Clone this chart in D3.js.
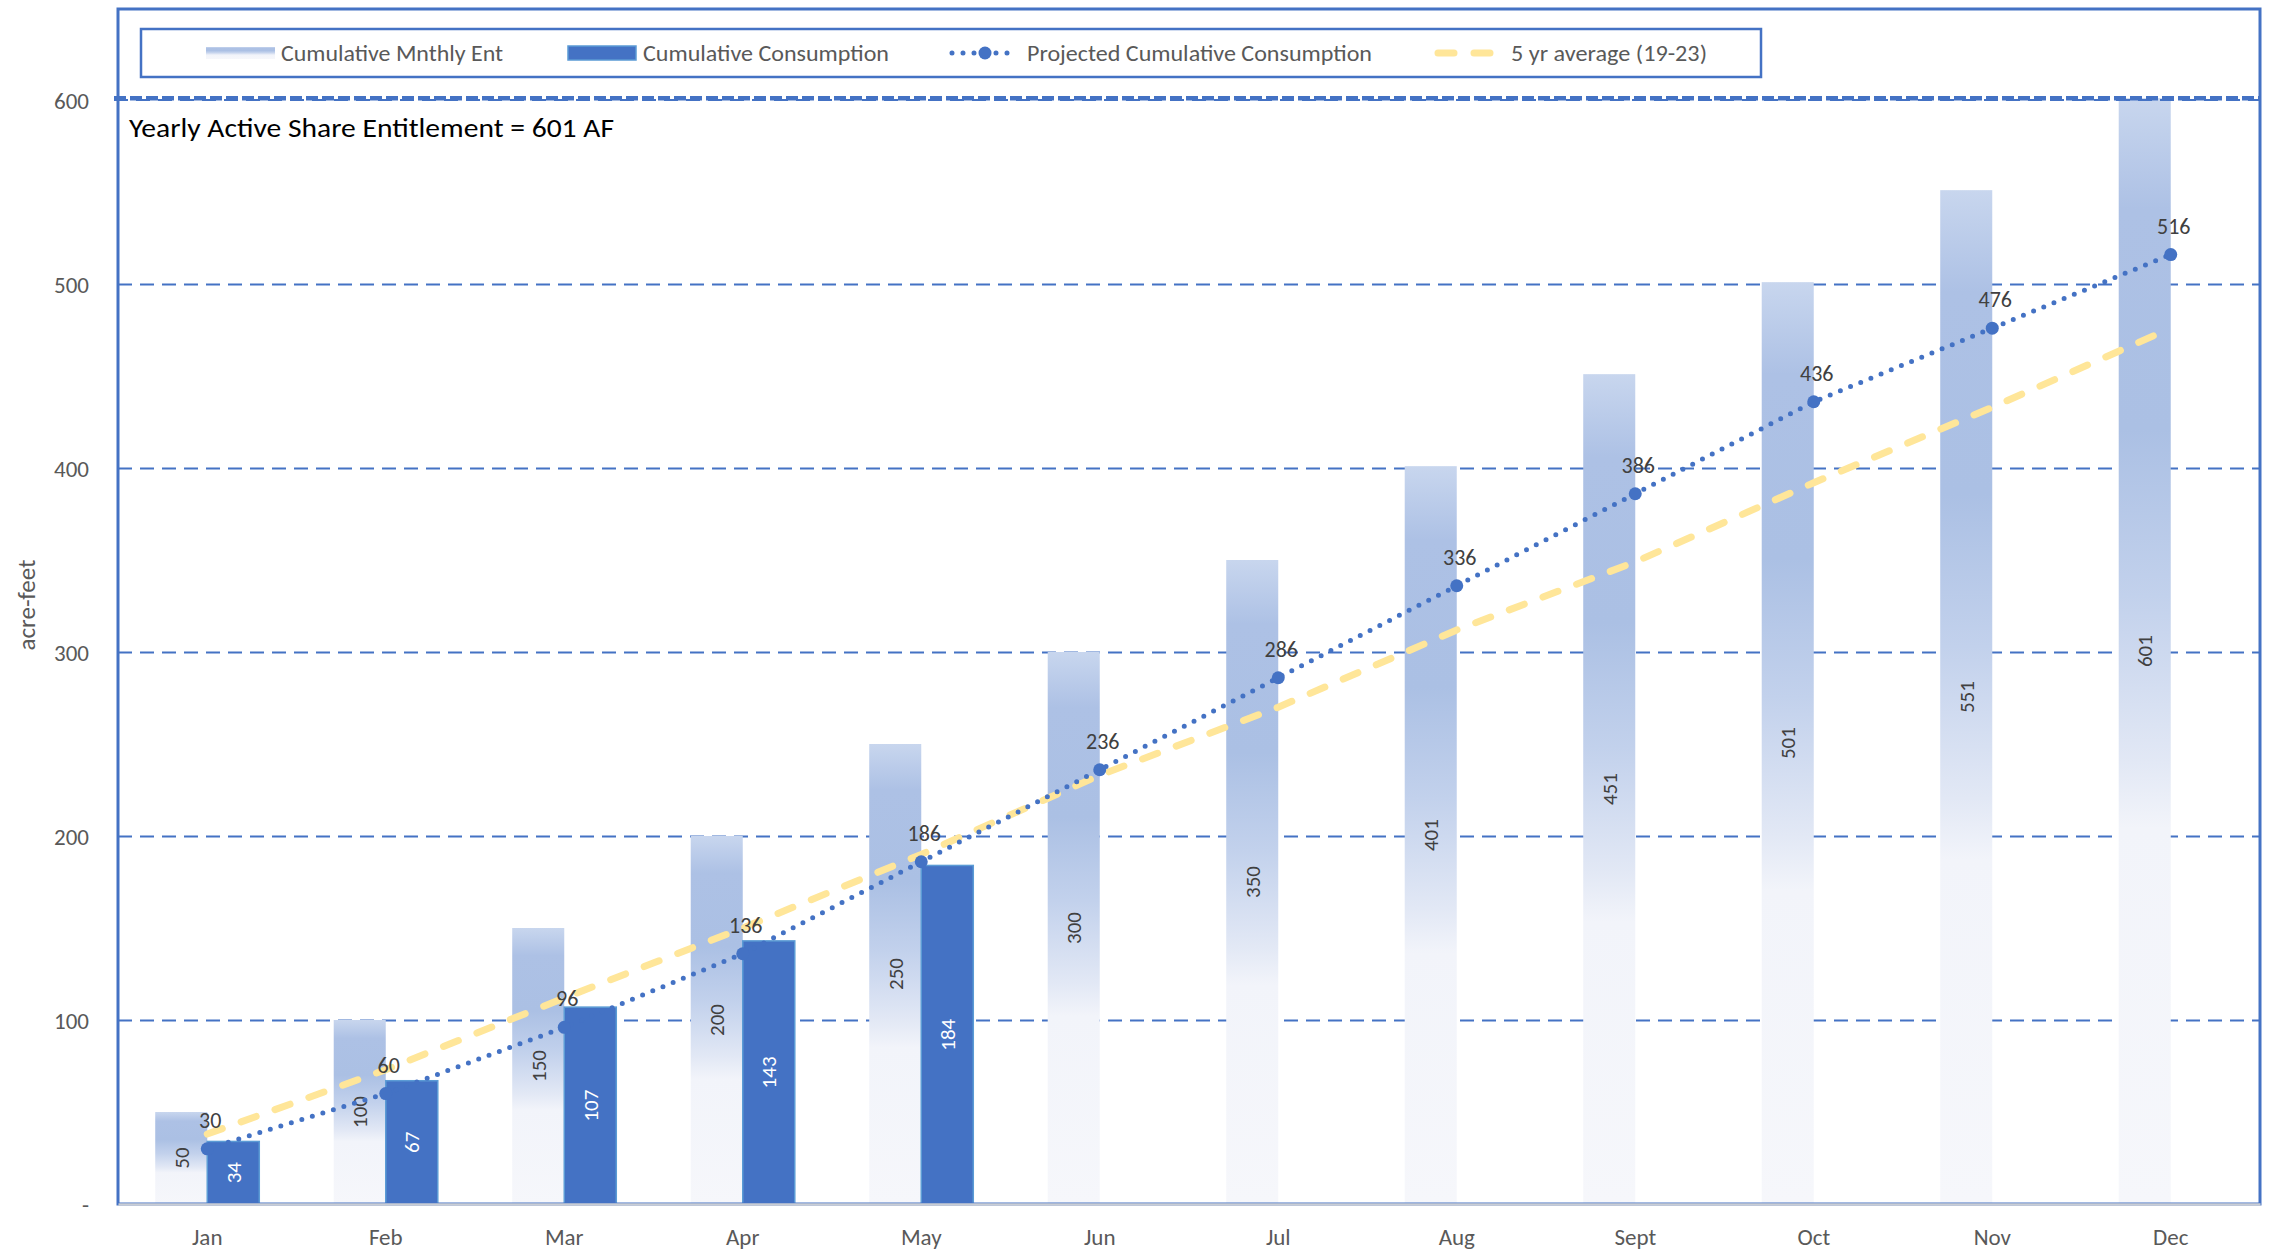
<!DOCTYPE html>
<html>
<head>
<meta charset="utf-8">
<script src="https://cdn.jsdelivr.net/npm/d3@7"></script>
<style>
  html, body { margin: 0; padding: 0; background: #fff; }
  #chart { width: 2277px; height: 1254px; }
</style>
</head>
<body>
<div id="chart"></div>
<script>
(function() {
const months = ['Jan', 'Feb', 'Mar', 'Apr', 'May', 'Jun', 'Jul', 'Aug', 'Sept', 'Oct', 'Nov', 'Dec']
const entitlement = [50, 100, 150, 200, 250, 300, 350, 401, 451, 501, 551, 601]
const consumption = [34, 67, 107, 143, 184]
const projected = [30, 60, 96, 136, 186, 236, 286, 336, 386, 436, 476, 516]
const fiveYrAvg = [38, 73, 112, 150, 190, 233, 270, 312, 349, 392, 433, 476]
const yTicks = [0, 100, 200, 300, 400, 500, 600]
const yearlyEntitlement = 601
const seriesNames = ['Cumulative Mnthly Ent', 'Cumulative Consumption', 'Projected Cumulative Consumption', '5 yr average (19-23)']

const width = 2277,
      height = 1254
const left = 118, right = 2260, top = 9, bottom = 1204
const FONT = "Carlito, 'Liberation Sans Narrow', 'Open Sans', sans-serif"
const BLUE = '#4472c4'

const svg = d3.select('#chart')
  .append('svg')
  .attr('width', width)
  .attr('height', height)
  .style('font-family', FONT)

// gradient for entitlement bars
const defs = svg.append('defs')
const grad = defs.append('linearGradient')
  .attr('id', 'entGrad')
  .attr('x1', 0).attr('y1', 0).attr('x2', 0).attr('y2', 1)
const stops = [[0, '#c8d6ee'], [0.1, '#adc1e5'], [0.3, '#abc0e4'], [0.45, '#c2d1ec'], [0.6, '#e2e8f5'], [0.66, '#f2f4fa'], [1, '#f6f7fb']]
stops.forEach(function(s) {
  grad.append('stop').attr('offset', s[0]).attr('stop-color', s[1])
})

const x = d3.scaleBand()
  .domain(months)
  .range([left, right])
  .paddingInner(0.417)
  .paddingOuter(0.2085)

const xs = d3.scaleBand()
  .domain(['ent', 'cons'])
  .range([0, x.bandwidth()])

const y = d3.scaleLinear()
  .domain([0, 600])
  .range([bottom, 100])

const cx = function(d, i) { return x(months[i]) + x.bandwidth() / 2 }

// gridlines
const grid = svg.append('g')
  .attr('transform', 'translate(' + left + ',0)')
  .call(d3.axisLeft(y).tickValues(yTicks.filter(function(t) { return t > 0 && t < 600 })).tickSize(-(right - left)).tickFormat(''))
grid.select('.domain').remove()
grid.selectAll('line')
  .attr('stroke', BLUE)
  .attr('stroke-width', 2)
  .attr('stroke-dasharray', '14 8')

// y axis labels
const yAxis = svg.append('g')
  .attr('transform', 'translate(89,0)')
  .call(d3.axisLeft(y).tickValues(yTicks).tickSize(0).tickPadding(0)
    .tickFormat(function(d) { return d === 0 ? '-' : d }))
yAxis.select('.domain').remove()
yAxis.selectAll('text')
  .attr('fill', '#595959')
  .style('font-family', FONT)
  .style('font-size', '23px')
  .attr('dy', '0.35em')

svg.append('text')
  .attr('transform', 'translate(35,' + 605 + ') rotate(-90)')
  .attr('text-anchor', 'middle')
  .attr('fill', '#595959')
  .style('font-size', '25px')
  .text('acre-feet')

// entitlement bars
svg.append('g').selectAll('rect')
  .data(entitlement)
  .enter().append('rect')
  .attr('x', function(d, i) { return x(months[i]) + xs('ent') })
  .attr('y', function(d) { return y(d) })
  .attr('width', xs.bandwidth())
  .attr('height', function(d) { return y(0) - y(d) })
  .attr('fill', 'url(#entGrad)')

// consumption bars
svg.append('g').selectAll('rect')
  .data(consumption)
  .enter().append('rect')
  .attr('x', function(d, i) { return x(months[i]) + xs('cons') })
  .attr('y', function(d) { return y(d) })
  .attr('width', xs.bandwidth())
  .attr('height', function(d) { return y(0) - y(d) })
  .attr('fill', BLUE)
  .attr('stroke', '#5b9bd5')
  .attr('stroke-width', 1.5)

// bar labels
svg.append('g').selectAll('text')
  .data(entitlement)
  .enter().append('text')
  .attr('transform', function(d, i) {
    return 'translate(' + (x(months[i]) + xs('ent') + xs.bandwidth() / 2) + ',' + ((y(d) + y(0)) / 2) + ') rotate(-90)'
  })
  .attr('text-anchor', 'middle')
  .attr('dy', '0.35em')
  .attr('fill', '#404040')
  .style('font-size', '21px')
  .text(function(d) { return d })

svg.append('g').selectAll('text')
  .data(consumption)
  .enter().append('text')
  .attr('transform', function(d, i) {
    return 'translate(' + (x(months[i]) + xs('cons') + xs.bandwidth() / 2) + ',' + ((y(d) + y(0)) / 2) + ') rotate(-90)'
  })
  .attr('text-anchor', 'middle')
  .attr('dy', '0.35em')
  .attr('fill', '#ffffff')
  .style('font-size', '21px')
  .text(function(d) { return d })

// frame and x axis line
svg.append('rect')
  .attr('x', left).attr('y', top)
  .attr('width', right - left).attr('height', bottom - top)
  .attr('fill', 'none')
  .attr('stroke', BLUE)
  .attr('stroke-width', 3)

const xAxis = svg.append('g')
  .attr('transform', 'translate(0,' + bottom + ')')
  .call(d3.axisBottom(x).tickSize(0).tickPadding(25))
xAxis.select('.domain')
  .attr('stroke', '#c9cdd4')
  .attr('stroke-width', 2.5)
xAxis.selectAll('text')
  .attr('fill', '#595959')
  .style('font-family', FONT)
  .style('font-size', '23px')

// 5 yr average line
const line = d3.line()
  .x(cx)
  .y(function(d) { return y(d) })

svg.append('path')
  .datum(fiveYrAvg)
  .attr('d', line)
  .attr('fill', 'none')
  .attr('stroke', '#ffe699')
  .attr('stroke-width', 7)
  .attr('stroke-linecap', 'round')
  .attr('stroke-dasharray', '16 20')

// projected line
svg.append('path')
  .datum(projected)
  .attr('d', line)
  .attr('fill', 'none')
  .attr('stroke', BLUE)
  .attr('stroke-width', 5)
  .attr('stroke-linecap', 'round')
  .attr('stroke-dasharray', '0 11')

svg.append('g').selectAll('circle')
  .data(projected)
  .enter().append('circle')
  .attr('cx', cx)
  .attr('cy', function(d) { return y(d) })
  .attr('r', 6.5)
  .attr('fill', BLUE)

svg.append('g').selectAll('text')
  .data(projected)
  .enter().append('text')
  .attr('x', function(d, i) { return cx(d, i) + 3 })
  .attr('y', function(d) { return y(d) - 21 })
  .attr('text-anchor', 'middle')
  .attr('fill', '#404040')
  .style('font-size', '22px')
  .text(function(d) { return d })

// yearly entitlement line
svg.append('line')
  .attr('x1', 114).attr('x2', right)
  .attr('y1', y(600)).attr('y2', y(600))
  .attr('stroke', BLUE)
  .attr('stroke-width', 2)
  .attr('stroke-dasharray', '14 8')
svg.append('line')
  .attr('x1', 114).attr('x2', right)
  .attr('y1', y(yearlyEntitlement)).attr('y2', y(yearlyEntitlement))
  .attr('stroke', BLUE)
  .attr('stroke-width', 4.5)
  .attr('stroke-dasharray', '12 4')

svg.append('text')
  .attr('x', 129)
  .attr('y', 137)
  .attr('fill', '#000')
  .style('font-size', '27px')
  .attr('textLength', 485)
  .attr('lengthAdjust', 'spacingAndGlyphs')
  .text('Yearly Active Share Entitlement = ' + yearlyEntitlement + ' AF')

// legend
const legend = svg.append('g')
legend.append('rect')
  .attr('x', 141).attr('y', 29)
  .attr('width', 1620).attr('height', 48)
  .attr('fill', '#fff')
  .attr('stroke', BLUE)
  .attr('stroke-width', 2.5)

const ly = 53
legend.append('rect')
  .attr('x', 206).attr('y', ly - 6).attr('width', 69).attr('height', 12)
  .attr('fill', 'url(#entGrad)')
legend.append('rect')
  .attr('x', 568).attr('y', ly - 7).attr('width', 68).attr('height', 14)
  .attr('fill', BLUE).attr('stroke', '#5b9bd5').attr('stroke-width', 1.5)
legend.append('line')
  .attr('x1', 952).attr('x2', 1018).attr('y1', ly).attr('y2', ly)
  .attr('stroke', BLUE).attr('stroke-width', 5)
  .attr('stroke-linecap', 'round').attr('stroke-dasharray', '0 11')
legend.append('circle')
  .attr('cx', 985).attr('cy', ly).attr('r', 6.5).attr('fill', BLUE)
legend.append('line')
  .attr('x1', 1438).attr('x2', 1498).attr('y1', ly).attr('y2', ly)
  .attr('stroke', '#ffe699').attr('stroke-width', 7)
  .attr('stroke-linecap', 'round').attr('stroke-dasharray', '16 20')

const legendX = [281, 643, 1027, 1511]
const legendW = [222, 246, 345, 196]
legend.selectAll('text.lg')
  .data(seriesNames)
  .enter().append('text')
  .attr('class', 'lg')
  .attr('x', function(d, i) { return legendX[i] })
  .attr('y', ly)
  .attr('dy', '0.35em')
  .attr('fill', '#595959')
  .style('font-size', '23px')
  .attr('textLength', function(d, i) { return legendW[i] })
  .attr('lengthAdjust', 'spacingAndGlyphs')
  .text(function(d) { return d })
})()
</script>
</body>
</html>
